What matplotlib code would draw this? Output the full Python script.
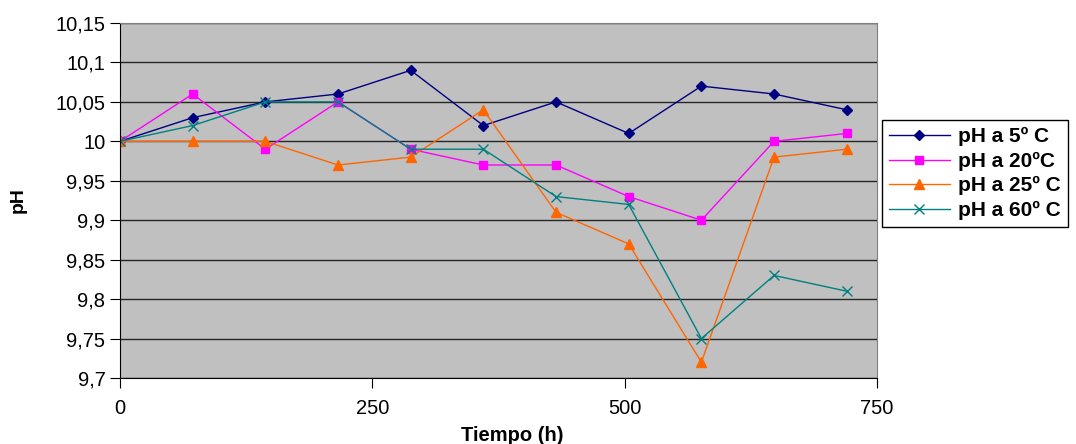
import matplotlib
matplotlib.use('Agg')
import matplotlib.pyplot as plt
from matplotlib.ticker import FuncFormatter, MultipleLocator

plt.rcParams['font.family'] = ['Liberation Sans', 'DejaVu Sans']

# tiempo (h)
tiempo = [0, 72, 144, 216, 288, 360, 432, 504, 576, 648, 720]
ph_5 = [10.00, 10.03, 10.05, 10.06, 10.09, 10.02, 10.05, 10.01, 10.07, 10.06, 10.04]
ph_20 = [10.00, 10.06, 9.99, 10.05, 9.99, 9.97, 9.97, 9.93, 9.90, 10.00, 10.01]
ph_25 = [10.00, 10.00, 10.00, 9.97, 9.98, 10.04, 9.91, 9.87, 9.72, 9.98, 9.99]
ph_60 = [10.00, 10.02, 10.05, 10.05, 9.99, 9.99, 9.93, 9.92, 9.75, 9.83, 9.81]
labels = ['pH a 5º C', 'pH a 20ºC', 'pH a 25º C', 'pH a 60º C']

W, H = 1076, 444
L, R, T, B = 120, 877, 23, 378
fig = plt.figure(figsize=(W / 100, H / 100), dpi=100)
ax = fig.add_axes([L / W, 1 - B / H, (R - L) / W, (B - T) / H])
ax.set_facecolor('#C0C0C0')

ax.plot(tiempo, ph_5, color='#000080', marker='D', ms=5, lw=1, label=labels[0])
ax.plot(tiempo, ph_20, color='#FF00FF', marker='s', ms=6, lw=1, label=labels[1])
ax.plot(tiempo, ph_25, color='#FF6600', marker='^', ms=7, lw=1, label=labels[2])
ax.plot(tiempo, ph_60, color='#008080', marker='x', ms=7, mew=1, lw=1, label=labels[3])

ax.set_xlim(0, 750)
ax.set_ylim(9.7, 10.15)
ax.xaxis.set_major_locator(MultipleLocator(250))
ax.yaxis.set_major_locator(MultipleLocator(0.05))
ax.yaxis.set_major_formatter(FuncFormatter(lambda v, p: ('%g' % round(v, 2)).replace('.', ',')))
ax.grid(axis='y', color='black', lw=1, alpha=0.8)
ax.set_axisbelow(True)

for s in ['top', 'right']:
    ax.spines[s].set_color('#808080')
for s in ['left', 'bottom']:
    ax.spines[s].set_color('black')
ax.tick_params(direction='out', length=7, labelsize=14.5, color='black')
ax.tick_params(axis='x', pad=8)

ax.set_xlabel('Tiempo (h)', fontsize=14.5, fontweight='bold')
ax.xaxis.set_label_coords((512 - L) / (R - L), -(435 - B) / (B - T))
ax.xaxis.label.set_va('center')
ax.set_ylabel('pH', fontsize=14, fontweight='bold')
ax.yaxis.set_label_coords((18 - L) / (R - L), (B - 200) / (B - T))
ax.yaxis.label.set_va('center')

leg = ax.legend(loc='upper left', bbox_to_anchor=((882 - L) / (R - L), (B - 120) / (B - T)),
                frameon=True, fancybox=False, edgecolor='black', framealpha=1,
                prop={'weight': 'bold', 'size': 15}, handlelength=2.9,
                borderpad=0.35, labelspacing=0.26, handletextpad=0.4, borderaxespad=0)
leg.get_frame().set_linewidth(1)

fig.savefig('out.png', dpi=100)
